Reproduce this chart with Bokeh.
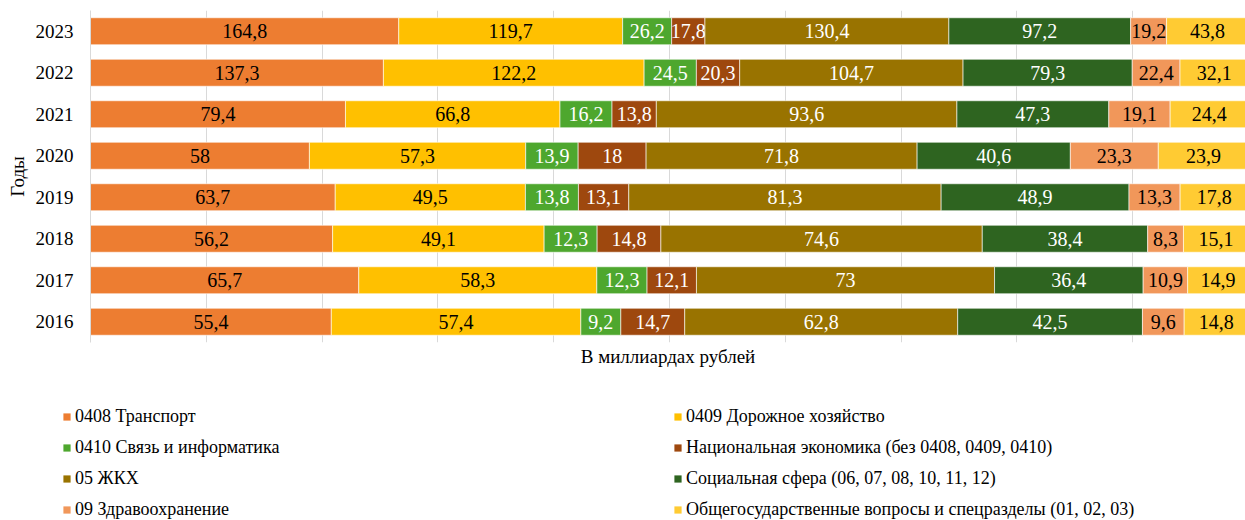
from bokeh.plotting import figure
from bokeh.models import ColumnDataSource, Legend, LegendItem, FactorRange, FixedTicker, Range1d
from bokeh.core.properties import value
from bokeh.embed import file_html
from bokeh.resources import INLINE

years = ["2023", "2022", "2021", "2020", "2019", "2018", "2017", "2016"]
transport = [164.8, 137.3, 79.4, 58, 63.7, 56.2, 65.7, 55.4]
roads = [119.7, 122.2, 66.8, 57.3, 49.5, 49.1, 58.3, 57.4]
communications = [26.2, 24.5, 16.2, 13.9, 13.8, 12.3, 12.3, 9.2]
national_economy = [17.8, 20.3, 13.8, 18, 13.1, 14.8, 12.1, 14.7]
housing = [130.4, 104.7, 93.6, 71.8, 81.3, 74.6, 73, 62.8]
social = [97.2, 79.3, 47.3, 40.6, 48.9, 38.4, 36.4, 42.5]
health = [19.2, 22.4, 19.1, 23.3, 13.3, 8.3, 10.9, 9.6]
general = [43.8, 32.1, 24.4, 23.9, 17.8, 15.1, 14.9, 14.8]

series_values = [transport, roads, communications, national_economy,
                 housing, social, health, general]
series_names = [
    "0408 Транспорт",
    "0409 Дорожное хозяйство",
    "0410 Связь и информатика",
    "Национальная экономика (без 0408, 0409, 0410)",
    "05 ЖКХ",
    "Социальная сфера (06, 07, 08, 10, 11, 12)",
    "09 Здравоохранение",
    "Общегосударственные вопросы и спецразделы (01, 02, 03)",
]
colors = ["#ED7D31", "#FFC000", "#4EA72E", "#9E480E",
          "#997300", "#2E6420", "#F1975A", "#FFCB33"]
label_colors = ["black", "black", "white", "white",
                "white", "white", "black", "black"]

FONT = "Liberation Serif"


def fmt(v):
    if float(v).is_integer():
        return str(int(v))
    return str(v).replace(".", ",")


totals = [sum(s[i] for s in series_values) for i in range(len(years))]

p = figure(width=1245, height=370, output_backend="svg", toolbar_location=None,
           y_range=FactorRange(factors=list(reversed(years))),
           x_range=Range1d(0, 0.9974),
           min_border_left=90, min_border_right=0, min_border_top=10,
           min_border_bottom=28)
p.outline_line_color = None

cum = [0.0] * len(years)
for vals, name, col, lcol in zip(series_values, series_names, colors, label_colors):
    left = [cum[i] / totals[i] for i in range(len(years))]
    right = [(cum[i] + vals[i]) / totals[i] for i in range(len(years))]
    cum = [cum[i] + vals[i] for i in range(len(years))]
    src = ColumnDataSource(dict(
        y=years, left=left, right=right,
        mid=[(l + r) / 2 for l, r in zip(left, right)],
        lab=[fmt(v) for v in vals]))
    p.hbar(y="y", left="left", right="right", height=0.65, source=src,
           fill_color=col, line_color="white", line_width=0.6)
    p.text(x="mid", y="y", text="lab", source=src, text_align="center",
           text_baseline="middle", text_color=lcol,
           text_font=value(FONT), text_font_size="20px")

# axes
p.yaxis.axis_line_color = "#d9d9d9"
p.yaxis.major_tick_line_color = None
p.yaxis.minor_tick_line_color = None
p.yaxis.major_tick_out = 0
p.yaxis.major_label_standoff = 17
p.yaxis.major_label_text_font = FONT
p.yaxis.major_label_text_font_size = "19px"
p.yaxis.major_label_text_color = "black"
p.yaxis.axis_label = "Годы"
p.yaxis.axis_label_text_font = FONT
p.yaxis.axis_label_text_font_size = "19px"
p.yaxis.axis_label_text_font_style = "normal"
p.yaxis.axis_label_text_color = "black"
p.yaxis.axis_label_standoff = 5

p.xaxis.ticker = FixedTicker(ticks=[])
p.xaxis.axis_line_color = None
p.xaxis.major_tick_line_color = None
p.xaxis.minor_tick_line_color = None
p.xaxis.major_tick_out = 0
p.xaxis.major_label_standoff = 0
p.xaxis.axis_label = "В миллиардах рублей"
p.xaxis.axis_label_text_font = FONT
p.xaxis.axis_label_text_font_size = "19px"
p.xaxis.axis_label_text_font_style = "normal"
p.xaxis.axis_label_text_color = "black"
p.xaxis.axis_label_standoff = 3

p.ygrid.grid_line_color = None
p.xgrid.ticker = FixedTicker(ticks=[0.1 * i for i in range(1, 10)])
p.xgrid.grid_line_color = "#d9d9d9"
p.xgrid.grid_line_width = 1

# legend figure (separate root so that its frame spans the full width)
p2 = figure(width=1245, height=150, output_backend="svg", toolbar_location=None,
            x_range=Range1d(0, 1), y_range=Range1d(0, 1),
            x_axis_location=None, y_axis_location=None,
            min_border_left=0, min_border_right=0, min_border_top=0,
            min_border_bottom=0)
p2.outline_line_color = None
p2.grid.visible = False

swatches = []
for col in colors:
    # legend swatch helpers, kept outside the visible range
    swatches.append(p2.hbar(y=[5], left=[5], right=[6], height=0.5,
                            fill_color=col, line_color=None))


def make_legend(idx, loc):
    items = [LegendItem(label=series_names[i], renderers=[swatches[i]]) for i in idx]
    return Legend(items=items, location=loc, orientation="vertical",
                  padding=0, margin=0, spacing=9, label_height=22,
                  glyph_height=9, glyph_width=9, label_standoff=4,
                  label_text_font=FONT, label_text_font_size="18px",
                  label_text_color="black",
                  border_line_color=None, background_fill_alpha=0)


p2.add_layout(make_legend([0, 2, 4, 6], (62, 0)))
p2.add_layout(make_legend([1, 3, 5, 7], (673, 0)))

open("out.html", "w").write(file_html([p, p2], INLINE))
